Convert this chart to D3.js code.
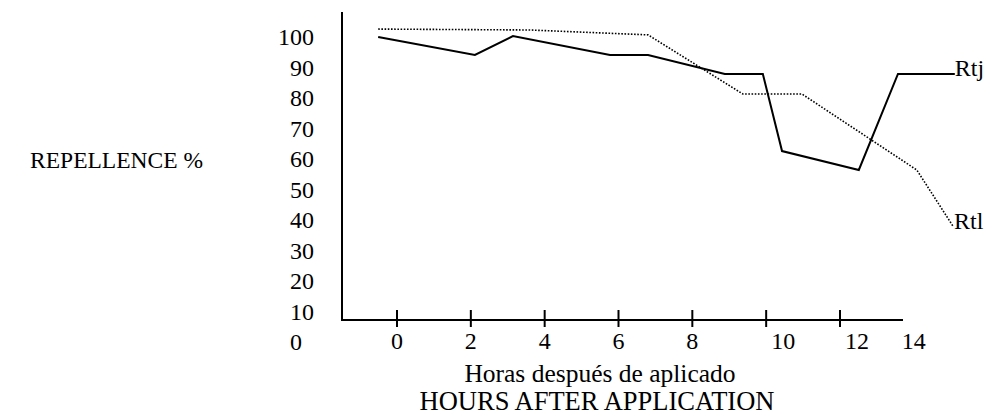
<!DOCTYPE html>
<html>
<head>
<meta charset="utf-8">
<script src="https://cdn.jsdelivr.net/npm/d3@7"></script>
<style>
  html, body { margin: 0; padding: 0; background: #fff; }
  svg text { font-family: "Liberation Serif", "Times New Roman", Times, serif; fill: #000; }
</style>
</head>
<body>
<svg id="chart" width="986" height="418" font-family="Liberation Serif, Times New Roman, serif"></svg>
<script>
// ---- data ----
const rtjHours  = [-0.51, 2.11, 3.14, 5.77, 6.8, 8.88, 9.91, 10.43, 12.51, 13.57, 15.11];
const rtjValues = [100, 94.1, 100.3, 94.1, 94.1, 87.9, 87.9, 62.6, 56.4, 87.9, 87.9];
const rtlHours  = [-0.51, 3.6, 6.8, 9.37, 10.97, 14.08, 15.06];
const rtlValues = [102.6, 102.3, 100.7, 81.3, 81.3, 56.4, 38];
const xTickHours  = [0, 2, 4, 6, 8, 10, 12];
const xTickLabels = [0, 2, 4, 6, 8, 10, 12, 14];
const yTickLabels = [0, 10, 20, 30, 40, 50, 60, 70, 80, 90, 100];
const seriesNames = ["Rtj", "Rtl"];

const FONT = "'Liberation Serif', 'Times New Roman', serif";
const svg = d3.select("#chart");
const x = d3.scaleLinear().domain([0, 12]).range([397, 840]);
const y = d3.scaleLinear().domain([0, 100]).range([342, 37]);

const axisX = 342, axisY = 320, axisTop = 12, axisRight = 903;

// axes lines
svg.append("line").attr("x1", axisX).attr("x2", axisX).attr("y1", axisTop).attr("y2", axisY + 1)
  .attr("stroke", "#000").attr("stroke-width", 2);
svg.append("line").attr("x1", axisX - 1).attr("x2", axisRight).attr("y1", axisY).attr("y2", axisY)
  .attr("stroke", "#000").attr("stroke-width", 2);

// x ticks
svg.selectAll(".xt").data(xTickHours).enter().append("line")
  .attr("x1", d => x(d)).attr("x2", d => x(d))
  .attr("y1", axisY - 10).attr("y2", axisY + 7)
  .attr("stroke", "#000").attr("stroke-width", 2);

// x tick labels (two-digit labels before the end sit just right of their tick)
svg.selectAll(".xl").data(xTickLabels).enter().append("text")
  .attr("x", d => (d >= 10 && d < 14) ? x(d) + 5 : x(d))
  .attr("y", 349)
  .attr("text-anchor", d => (d >= 10 && d < 14) ? "start" : "middle")
  .style("font-family", FONT).style("font-size", "24px").text(d => d);

// y tick labels
svg.selectAll(".yl").data(yTickLabels).enter().append("text")
  .attr("x", d => d === 0 ? 302 : 314).attr("y", d => y(d) + 8)
  .attr("text-anchor", "end")
  .style("font-family", FONT).style("font-size", "24px").text(d => d);

// titles
svg.append("text").attr("x", 203).attr("y", 168).attr("text-anchor", "end")
  .style("font-family", FONT).style("font-size", "23.5px").text("REPELLENCE %");
svg.append("text").attr("x", 600).attr("y", 382).attr("text-anchor", "middle")
  .style("font-family", FONT).style("font-size", "25.5px").text("Horas después de aplicado");
svg.append("text").attr("x", 597).attr("y", 410).attr("text-anchor", "middle")
  .style("font-family", FONT).style("font-size", "26.5px").text("HOURS AFTER APPLICATION");

// lines
const line = d3.line().x(d => x(d[0])).y(d => y(d[1]));
const rtj = rtjHours.map((h, i) => [h, rtjValues[i]]);
const rtl = rtlHours.map((h, i) => [h, rtlValues[i]]);

svg.append("path").attr("d", line(rtl)).attr("fill", "none")
  .attr("stroke", "#000").attr("stroke-width", 1.6).attr("stroke-dasharray", "1.6,1.6");
svg.append("path").attr("d", line(rtj)).attr("fill", "none")
  .attr("stroke", "#000").attr("stroke-width", 2);

// series labels
svg.append("text").attr("x", x(rtjHours[rtjHours.length - 1])).attr("y", y(rtjValues[rtjValues.length - 1]) + 2)
  .style("font-family", FONT).style("font-size", "24px").text(seriesNames[0]);
svg.append("text").attr("x", x(rtlHours[rtlHours.length - 1]) + 1).attr("y", y(rtlValues[rtlValues.length - 1]) + 3)
  .style("font-family", FONT).style("font-size", "24px").text(seriesNames[1]);
</script>
</body>
</html>
